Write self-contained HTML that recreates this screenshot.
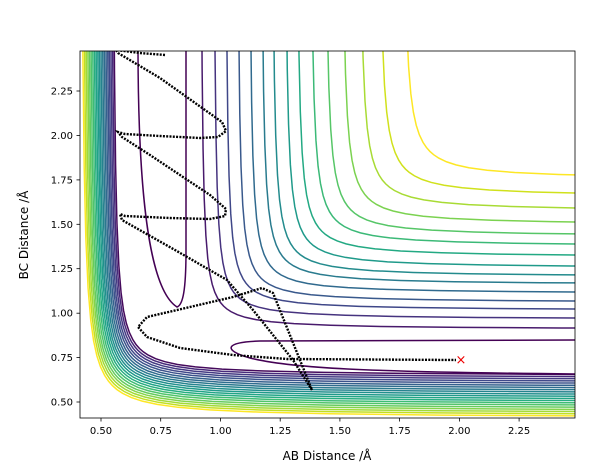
<!DOCTYPE html>
<html><head><meta charset="utf-8"><style>
body{margin:0;background:#fff}
svg{display:block;font-family:"DejaVu Sans","Liberation Sans",sans-serif}
</style></head><body>
<svg width="602" height="470" xmlns="http://www.w3.org/2000/svg" xmlns:xlink="http://www.w3.org/1999/xlink">
<defs><clipPath id="c"><rect x="80" y="51" width="495" height="367"/></clipPath>
<path id="h" fill="none" d="M0.02,50 L0.03,33.33 L0.045,22.22 L0.065,15.38 L0.09,11.11 L0.13,7.692 L0.18,5.556 L0.25,4 L0.33,3.03 L0.42,2.381 L0.52,1.923 L0.63,1.587 L0.76,1.316 L0.88,1.136 L1,1 L1.136,0.88 L1.316,0.76 L1.587,0.63 L1.923,0.52 L2.381,0.42 L3.03,0.33 L4,0.25 L5.556,0.18 L7.692,0.13 L11.11,0.09 L15.38,0.065 L22.22,0.045 L33.33,0.03 L50,0.02"/>
</defs>
<rect width="602" height="470" fill="#fff"/>
<g clip-path="url(#c)" fill="none">
<use href="#h" xlink:href="#h" transform="translate(200,329.5) scale(23.5,-23.5)" stroke="#481a6c" stroke-width="0.0638"/>
<use href="#h" xlink:href="#h" transform="translate(212.9,319.6) scale(23.84,-23.84)" stroke="#46337f" stroke-width="0.0629"/>
<use href="#h" xlink:href="#h" transform="translate(224.7,310.7) scale(24.19,-24.19)" stroke="#3f4788" stroke-width="0.062"/>
<use href="#h" xlink:href="#h" transform="translate(236.6,302.8) scale(24.53,-24.53)" stroke="#39598c" stroke-width="0.0611"/>
<use href="#h" xlink:href="#h" transform="translate(248.4,293.9) scale(24.87,-24.87)" stroke="#306a8e" stroke-width="0.0603"/>
<use href="#h" xlink:href="#h" transform="translate(260.3,285) scale(25.21,-25.21)" stroke="#297b8e" stroke-width="0.0595"/>
<use href="#h" xlink:href="#h" transform="translate(271.1,277.1) scale(25.56,-25.56)" stroke="#238b8d" stroke-width="0.0587"/>
<use href="#h" xlink:href="#h" transform="translate(283.9,268.3) scale(25.9,-25.9)" stroke="#1f9a8a" stroke-width="0.0579"/>
<use href="#h" xlink:href="#h" transform="translate(295.6,257.5) scale(26.24,-26.24)" stroke="#23a983" stroke-width="0.0572"/>
<use href="#h" xlink:href="#h" transform="translate(309.3,246.7) scale(26.59,-26.59)" stroke="#3bb977" stroke-width="0.0564"/>
<use href="#h" xlink:href="#h" transform="translate(324,236.9) scale(26.93,-26.93)" stroke="#56c667" stroke-width="0.0557"/>
<use href="#h" xlink:href="#h" transform="translate(340.6,225.2) scale(27.27,-27.27)" stroke="#7bd250" stroke-width="0.055"/>
<use href="#h" xlink:href="#h" transform="translate(358.1,211.5) scale(27.61,-27.61)" stroke="#a8db34" stroke-width="0.0543"/>
<use href="#h" xlink:href="#h" transform="translate(377.5,197) scale(27.96,-27.96)" stroke="#d0e11c" stroke-width="0.0536"/>
<use href="#h" xlink:href="#h" transform="translate(401.5,179.6) scale(28.3,-28.3)" stroke="#fde725" stroke-width="0.053"/>

<use href="#h" xlink:href="#h" transform="translate(112,376) scale(27.5,-27.5)" stroke="#450a5c" stroke-width="0.0545"/>
<use href="#h" xlink:href="#h" transform="translate(110.3,378.2) scale(27.76,-27.76)" stroke="#472a7a" stroke-width="0.054"/>
<use href="#h" xlink:href="#h" transform="translate(108.6,380.4) scale(28.02,-28.02)" stroke="#443a83" stroke-width="0.0535"/>
<use href="#h" xlink:href="#h" transform="translate(106.9,382.6) scale(28.27,-28.27)" stroke="#3f4889" stroke-width="0.053"/>
<use href="#h" xlink:href="#h" transform="translate(105.3,384.8) scale(28.53,-28.53)" stroke="#3b528b" stroke-width="0.0526"/>
<use href="#h" xlink:href="#h" transform="translate(103.6,387.1) scale(28.79,-28.79)" stroke="#34608d" stroke-width="0.0521"/>
<use href="#h" xlink:href="#h" transform="translate(101.9,389.3) scale(29.05,-29.05)" stroke="#2f6c8e" stroke-width="0.0516"/>
<use href="#h" xlink:href="#h" transform="translate(100.2,391.5) scale(29.31,-29.31)" stroke="#2a788e" stroke-width="0.0512"/>
<use href="#h" xlink:href="#h" transform="translate(98.5,393.7) scale(29.56,-29.56)" stroke="#25838e" stroke-width="0.0507"/>
<use href="#h" xlink:href="#h" transform="translate(96.8,395.9) scale(29.82,-29.82)" stroke="#218f8d" stroke-width="0.0503"/>
<use href="#h" xlink:href="#h" transform="translate(95.2,398.1) scale(30.08,-30.08)" stroke="#1f9a8a" stroke-width="0.0499"/>
<use href="#h" xlink:href="#h" transform="translate(93.5,400.3) scale(30.34,-30.34)" stroke="#20a486" stroke-width="0.0494"/>
<use href="#h" xlink:href="#h" transform="translate(91.8,402.5) scale(30.6,-30.6)" stroke="#27ad81" stroke-width="0.049"/>
<use href="#h" xlink:href="#h" transform="translate(90.1,404.7) scale(30.85,-30.85)" stroke="#3dbc74" stroke-width="0.0486"/>
<use href="#h" xlink:href="#h" transform="translate(88.4,406.9) scale(31.11,-31.11)" stroke="#50c46a" stroke-width="0.0482"/>
<use href="#h" xlink:href="#h" transform="translate(86.7,409.2) scale(31.37,-31.37)" stroke="#65cb5e" stroke-width="0.0478"/>
<use href="#h" xlink:href="#h" transform="translate(85.1,411.4) scale(31.63,-31.63)" stroke="#84d44b" stroke-width="0.0474"/>
<use href="#h" xlink:href="#h" transform="translate(83.4,413.6) scale(31.88,-31.88)" stroke="#a2da37" stroke-width="0.047"/>
<use href="#h" xlink:href="#h" transform="translate(81.7,415.8) scale(32.14,-32.14)" stroke="#c2df23" stroke-width="0.0467"/>
<use href="#h" xlink:href="#h" transform="translate(80,418) scale(32.4,-32.4)" stroke="#fde725" stroke-width="0.0463"/>

<path d="M138,45 C138,200 150,290 177,307 C183,305 186,290 186,250 L186,45" stroke="#440154" stroke-width="1.5"/>
<path d="M580,340 L260,341 C225,342 222,350 250,358 C290,368 360,372 580,374" stroke="#440154" stroke-width="1.5"/>
</g>
<g clip-path="url(#c)" fill="none" stroke="#000" stroke-width="2.4" stroke-dasharray="2,1.3">
<path d="M165,55 L140,53 L116,50 L118,53 L160,78 L205,110 L222,122 L226,131 L218,137 L200,138 L160,136 L125,134 L118,132 L122,137 L150,155 L210,195 L226,209 L225,216 L210,219 L170,218 L125,216 L120,214 L122,220 L175,250 L227,280 L253,310 L293,360 L312,390 L273,293 L262,288 L233,297 L147,317 L138,327 L147,337 L180,348 L233,355 L287,359 L456,360"/>
</g>
<text x="461" y="364" fill="#e00" font-size="13" text-anchor="middle">×</text>
<rect x="80" y="51" width="495" height="367" fill="none" stroke="#000" stroke-width="0.8"/>
<g stroke="#000" stroke-width="0.8">
<line x1="101" x2="101" y1="418" y2="421.5"/><line x1="160.7" x2="160.7" y1="418" y2="421.5"/><line x1="220.5" x2="220.5" y1="418" y2="421.5"/><line x1="280.2" x2="280.2" y1="418" y2="421.5"/><line x1="339.9" x2="339.9" y1="418" y2="421.5"/><line x1="399.6" x2="399.6" y1="418" y2="421.5"/><line x1="459.4" x2="459.4" y1="418" y2="421.5"/><line x1="519.1" x2="519.1" y1="418" y2="421.5"/>
<line x1="76.5" x2="80" y1="402" y2="402"/><line x1="76.5" x2="80" y1="357.6" y2="357.6"/><line x1="76.5" x2="80" y1="313.2" y2="313.2"/><line x1="76.5" x2="80" y1="268.7" y2="268.7"/><line x1="76.5" x2="80" y1="224.3" y2="224.3"/><line x1="76.5" x2="80" y1="179.9" y2="179.9"/><line x1="76.5" x2="80" y1="135.5" y2="135.5"/><line x1="76.5" x2="80" y1="91" y2="91"/>
</g>
<g font-size="10" fill="#000" text-anchor="middle">
<text x="101" y="434">0.50</text><text x="160.7" y="434">0.75</text><text x="220.5" y="434">1.00</text><text x="280.2" y="434">1.25</text><text x="339.9" y="434">1.50</text><text x="399.6" y="434">1.75</text><text x="459.4" y="434">2.00</text><text x="519.1" y="434">2.25</text>
</g>
<g font-size="10" fill="#000" text-anchor="end">
<text x="73" y="405.5">0.50</text><text x="73" y="361.1">0.75</text><text x="73" y="316.7">1.00</text><text x="73" y="272.2">1.25</text><text x="73" y="227.8">1.50</text><text x="73" y="183.4">1.75</text><text x="73" y="139">2.00</text><text x="73" y="94.5">2.25</text>
</g>
<text x="327" y="460" font-size="12" text-anchor="middle">AB Distance /Å</text>
<text transform="translate(28,235) rotate(-90)" font-size="12" text-anchor="middle">BC Distance /Å</text>
</svg>
</body></html>
